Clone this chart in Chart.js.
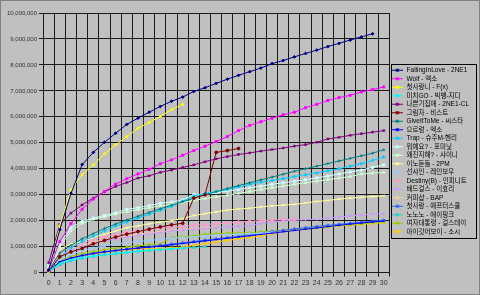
<!DOCTYPE html>
<html>
<head>
<meta charset="utf-8">
<script src="https://cdn.jsdelivr.net/npm/chart.js@4.4.1/dist/chart.umd.min.js"></script>
<style>
  html, body { margin: 0; padding: 0; background: #c0c0c0; }
  canvas { display: block; }
</style>
</head>
<body>
<canvas id="lineChart" width="480" height="295"></canvas>
<script>
// weeks since release
var weeks = ["0", "1", "2", "3", "4", "5", "6", "7", "8", "9", "10", "11", "12", "13", "14", "15",
    "16", "17", "18", "19", "20", "21", "22", "23", "24", "25", "26", "27", "28", "29", "30"];

var songs = ["FallingInLove - 2NE1", "Wolf - 엑소", "첫사랑니 - F(x)", "미치GO - 빅뱅-지디",
    "나쁜기집애 - 2NE1-CL", "그림자 - 비스트", "GiveItToMe - 씨스타", "으르렁 - 엑소",
    "Trap - 슈주M-헨리", "뭐예요? - 포미닛", "왜진지해? - 샤이니", "이노듣돌 - 2PM",
    "선샤인 - 레인보우", "Destiny(B) - 인피니트", "배드걸스 - 이효리", "커피샵 - BAP",
    "첫사랑 - 애프터스쿨", "노노노 - 에이핑크", "여자대통령 - 걸스데이", "아이갓어보이 - 소시"];

// cumulative downloads, millions
var fallingInLove = [0.1, 1.65, 3.05, 4.16, 4.63, 5.02, 5.37, 5.71, 5.95, 6.18, 6.40, 6.60, 6.76, 6.98, 7.12, 7.29,
    7.45, 7.60, 7.74, 7.88, 8.05, 8.17, 8.31, 8.44, 8.57, 8.71, 8.83, 8.96, 9.08, 9.20];
var wolf = [0.1, 1.19, 1.89, 2.44, 2.83, 3.13, 3.41, 3.62, 3.80, 3.98, 4.19, 4.34, 4.52, 4.70, 4.87, 5.05,
    5.24, 5.47, 5.67, 5.81, 5.95, 6.08, 6.18, 6.35, 6.48, 6.63, 6.74, 6.83, 6.96, 7.05, 7.15];
var firstLoveTooth = [0, 1.8, 3.2, 3.77, 4.15, 4.57, 4.92, 5.24, 5.56, 5.78, 6.02, 6.27, 6.48];
var michiGo = [0.05, 0.35, 0.5, 0.58, 0.64, 0.69, 0.74, 0.78, 0.82, 0.86, 0.89, 0.92, 0.95];
var badGirl = [0.38, 1.85, 2.29, 2.61, 2.87, 3.11, 3.32, 3.47, 3.64, 3.73, 3.86, 3.95, 4.05, 4.15, 4.27, 4.38,
    4.47, 4.55, 4.61, 4.68, 4.74, 4.80, 4.87, 4.93, 5.02, 5.15, 5.21, 5.29, 5.35, 5.41, 5.47];
var shadow = [0.05, 0.61, 0.80, 0.93, 1.11, 1.24, 1.37, 1.48, 1.58, 1.67, 1.76, 1.84, 1.90, 2.87, 3.00, 4.63,
    4.70, 4.78];
var giveItToMe = [0.1, 0.75, 1.05, 1.3, 1.5, 1.7, 1.87, 2.03, 2.17, 2.32, 2.46, 2.6, 2.73, 2.87, 3.0, 3.12,
    3.24, 3.35, 3.46, 3.57, 3.68, 3.79, 3.9, 4.0, 4.1, 4.2, 4.3, 4.4, 4.5, 4.6, 4.73];
var growl = [0.05, 0.42, 0.56, 0.66, 0.74, 0.8, 0.85, 0.9, 0.94, 0.98, 1.02, 1.07, 1.12, 1.17, 1.22, 1.27,
    1.32, 1.37, 1.42, 1.47, 1.52, 1.57, 1.62, 1.67, 1.72, 1.77, 1.82, 1.87, 1.91, 1.95, 1.98];
var trap = [0.1, 0.6, 0.95, 1.2, 1.4, 1.6, 1.8, 1.95, 2.1, 2.25, 2.4, 2.55, 2.75, 2.95, 3.05, 3.12,
    3.2, 3.3, 3.4, 3.48, 3.55, 3.62, 3.7, 3.77, 3.84, 3.92, 4.0, 4.1, 4.2, 4.32, 4.45];
var whatsYourName = [0.3, 1.1, 1.72, 1.97, 2.1, 2.2, 2.3, 2.44, 2.5, 2.58, 2.67, 2.72, 2.8, 3.0, 3.02, 3.08,
    3.14, 3.2, 3.27, 3.33, 3.4, 3.46, 3.52, 3.58, 3.65, 3.72, 3.8, 3.88, 3.95, 4.05, 4.15];
var whySoSerious = [0.2, 1.0, 1.6, 1.9, 2.05, 2.15, 2.25, 2.35, 2.42, 2.5, 2.57, 2.63, 2.7, 2.78, 2.85, 2.92,
    2.98, 3.05, 3.12, 3.2, 3.27, 3.33, 3.4, 3.46, 3.52, 3.58, 3.64, 3.7, 3.8, 3.83, 3.86];
var comeBack = [0.1, 0.9, 1.1, 1.2, 1.35, 1.48, 1.6, 1.73, 1.8, 1.88, 1.95, 2.0, 2.08, 2.2, 2.27, 2.34,
    2.41, 2.45, 2.48, 2.53, 2.57, 2.6, 2.63, 2.68, 2.74, 2.78, 2.83, 2.87, 2.9, 2.93, 2.96];
var sunshine = [0.05, 0.5, 0.7, 0.85, 0.95, 1.03, 1.1, 1.16, 1.2, 1.24, 1.28, 1.32, 1.35, 1.38, 1.41, 1.44,
    1.46, 1.48, 1.5, 1.52, 1.55];
var destiny = [0.1, 0.75, 1.0, 1.15, 1.27, 1.38, 1.47, 1.55, 1.6, 1.65, 1.7, 1.74, 1.78, 1.82, 1.85, 1.88,
    1.91, 1.94, 1.97, 2.0, 2.02, 2.04, 2.05];
var badGirls = [0.1, 0.6, 0.85, 1.0, 1.12, 1.22, 1.3, 1.38, 1.44, 1.5, 1.55, 1.6, 1.64, 1.67, 1.7, 1.73,
    1.76, 1.78, 1.8, 1.88, 1.95, 1.99, 2.02, 2.04, 2.05, 2.1, 2.14, 2.18, 2.22, 2.25, 2.27];
var coffeeShop = [0.1, 0.65, 0.9, 1.05, 1.17, 1.27, 1.35, 1.42, 1.48, 1.53, 1.58, 1.62, 1.66, 1.7, 1.73, 1.76];
var firstLove = [0.05, 0.4, 0.55, 0.65, 0.73, 0.8, 0.85, 0.9, 0.95, 1.0, 1.05, 1.1, 1.15, 1.2, 1.25, 1.3,
    1.35, 1.4, 1.45, 1.52, 1.58, 1.63, 1.68, 1.73, 1.78, 1.82, 1.86, 1.9, 1.94, 1.98, 2.02];
var noNoNo = [0.05, 0.3, 0.45, 0.55, 0.62, 0.68, 0.73, 0.77, 0.81, 0.85, 0.88, 0.91, 0.94, 0.97, 1.0];
var femalePresident = [0.05, 0.45, 0.62, 0.73, 0.81, 0.88, 0.94, 0.98, 1.03, 1.08, 1.1, 1.35, 1.38, 1.42, 1.48, 1.5,
    1.52, 1.53, 1.54, 1.57, 1.6, 1.63, 1.67, 1.7, 1.74, 1.78, 1.82, 1.85, 1.88, 1.92, 1.95];
var iGotABoy = [0.0, 0.38, 0.55, 0.65, 0.72, 0.78, 0.83, 0.87, 0.92, 0.92, 0.92, 0.95, 0.98, 1.05, 1.11, 1.18,
    1.24, 1.3, 1.35, 1.41, 1.5, 1.6, 1.65, 1.68, 1.73, 1.76, 1.8, 1.83, 1.86, 1.89, 1.93];

var yTicks = [0, 1, 2, 3, 4, 5, 6, 7, 8, 9, 10];

var seriesValues = [fallingInLove, wolf, firstLoveTooth, michiGo, badGirl, shadow, giveItToMe, growl,
    trap, whatsYourName, whySoSerious, comeBack, sunshine, destiny, badGirls, coffeeShop,
    firstLove, noNoNo, femalePresident, iGotABoy];

var colors = ["#000080", "#ff00ff", "#ffff00", "#00ffff", "#800080", "#800000", "#008080", "#0000ff",
    "#00ccff", "#ccffff", "#ccffcc", "#ffff99", "#99ccff", "#ff99cc", "#cc99ff", "#ffcc99",
    "#3366ff", "#33cccc", "#99cc00", "#ffcc00"];
var markers = ["rectRot", "rect", "triangle", "crossRot", "star", "circle", "cross", "line",
    "rectRot", "rect", "triangle", "crossRot", "star", "circle", "cross", "line",
    "rectRot", "rect", "triangle", "rect"];

var FONT = "'Liberation Sans', 'Noto Sans CJK KR', sans-serif";

function legendIcon(color) {
    var c = document.createElement("canvas");
    c.width = 12;
    c.height = 7;
    var g = c.getContext("2d");
    g.strokeStyle = color;
    g.lineWidth = 1;
    g.beginPath();
    g.moveTo(0, 3.5);
    g.lineTo(12, 3.5);
    g.stroke();
    g.fillStyle = color;
    g.fillRect(4.5, 2, 3, 3);
    return c;
}
var icons = colors.map(legendIcon);

var datasets = seriesValues.map(function (vals, i) {
    return {
        label: songs[i],
        data: vals,
        borderColor: colors[i],
        backgroundColor: colors[i],
        borderWidth: 1,
        pointStyle: markers[i],
        pointRadius: 1.4,
        pointBorderWidth: 1,
        tension: 0,
        fill: false,
    };
});

var frame = {
    id: "frame",
    beforeDraw: function (chart) {
        var ctx = chart.ctx;
        ctx.save();
        ctx.fillStyle = "#c0c0c0";
        ctx.fillRect(0, 0, chart.width, chart.height);
        ctx.strokeStyle = "#808080";
        ctx.strokeRect(0.5, 0.5, chart.width - 1, chart.height - 1);
        ctx.restore();
    },
    afterDraw: function (chart) {
        var lg = chart.legend;
        var ctx = chart.ctx;
        var boxes = lg.legendHitBoxes;
        var top = boxes[0].top - 3;
        var bottom = boxes[boxes.length - 1].top + boxes[boxes.length - 1].height + 3;
        ctx.save();
        ctx.strokeStyle = "#000000";
        ctx.lineWidth = 1;
        ctx.strokeRect(Math.round(lg.left) + 2.5, Math.round(top) + 0.5,
            Math.round(lg.right - lg.left) - 5, Math.round(bottom - top));
        ctx.restore();
    },
};

var ctx = document.getElementById("lineChart").getContext("2d");
var myChart = new Chart(ctx, {
    type: "line",
    data: {
        labels: weeks,
        datasets: datasets,
    },
    options: {
        responsive: false,
        animation: false,
        layout: { padding: { left: 5, right: 1, top: 13, bottom: 6 } },
        plugins: {
            tooltip: { enabled: false },
            legend: {
                position: "right",
                labels: {
                    font: { family: FONT, size: 6.5 },
                    color: "#000000",
                    padding: 2,
                    boxWidth: 12,
                    boxHeight: 6.5,
                    usePointStyle: true,
                    pointStyleWidth: 12,
                    generateLabels: function (chart) {
                        var items = Chart.defaults.plugins.legend.labels.generateLabels(chart);
                        items.forEach(function (it, i) {
                            it.pointStyle = icons[i];
                        });
                        return items;
                    },
                },
            },
        },
        scales: {
            x: {
                offset: true,
                grid: { offset: true, color: "#1a1a1a", lineWidth: 1, tickLength: 4 },
                border: { color: "#1a1a1a" },
                ticks: {
                    font: { family: FONT, size: 7 },
                    color: "#333333",
                    maxRotation: 0,
                    autoSkip: false,
                    padding: 2,
                },
            },
            y: {
                min: 0,
                max: 10,
                afterBuildTicks: function (axis) {
                    axis.ticks = yTicks.map(function (v) { return { value: v }; });
                },
                grid: { color: "#1a1a1a", lineWidth: 1, tickLength: 4 },
                border: { color: "#1a1a1a" },
                ticks: {
                    font: { family: FONT, size: 6 },
                    color: "#333333",
                    padding: 2,
                    callback: function (v) {
                        return (v * 1000000).toLocaleString("en-US");
                    },
                },
            },
        },
    },
    plugins: [frame],
});
</script>
</body>
</html>
